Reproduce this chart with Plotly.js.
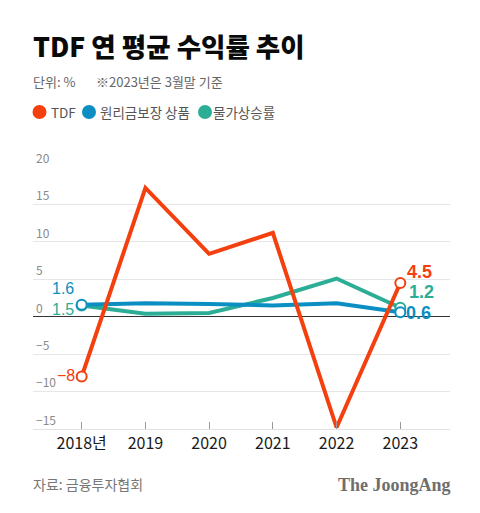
<!DOCTYPE html>
<html><head><meta charset="utf-8">
<script src="https://cdn.plot.ly/plotly-3.0.1.min.js"></script>
<style>html,body{margin:0;padding:0;background:#fff}#chart{width:480px;height:513px}</style>
</head><body><div id="chart"></div>
<script>
// ---- data ----
const years = ['2018','2019','2020','2021','2022','2023'];
const yearLabels = ['2018년','2019','2020','2021','2022','2023'];
const tdf = [-8, 17.2, 8.4, 11.2, -14.8, 4.5];
const guaranteed = [1.6, 1.8, 1.7, 1.5, 1.8, 0.6];
const inflation = [1.5, 0.4, 0.5, 2.5, 5.1, 1.2];
const seriesNames = ['TDF', '원리금보장 상품', '물가상승률'];
const yTicks = [-15, -10, -5, 0, 5, 10, 15, 20];
const titleText = 'TDF 연 평균 수익률 추이';
const unitText = '단위: %';
const noteText = '※2023년은 3월말 기준';
const sourceText = '자료: 금융투자협회';
const brandText = 'The JoongAng';

// ---- style ----
const colors = ['#f4400f', '#0b8fc3', '#2bae95'];
const FONT = 'Noto Sans CJK KR, Noto Sans, sans-serif';
const NUMFONT = 'Liberation Sans, Arial, sans-serif';
const W = 480, H = 513;
const M = {l: 33, r: 30, t: 167, b: 84};
const PW = W - M.l - M.r, PH = H - M.t - M.b;
const px = x => (x - M.l) / PW;
const py = y => (H - M.b - y) / PH;
const fmt = v => (v < 0 ? '\u2212' + Math.abs(v) : String(v));

const series = [tdf, guaranteed, inflation];
const last = years.length - 1;

function lineTrace(i) {
  return {x: years, y: series[i], type: 'scatter', mode: 'lines', name: seriesNames[i],
    line: {color: colors[i], width: 4, shape: 'linear'}, hoverinfo: 'skip', showlegend: false};
}
function endTrace(i) {
  return {x: [years[0], years[last]], y: [series[i][0], series[i][last]], type: 'scatter', mode: 'markers',
    marker: {size: 10, color: '#fff', line: {color: colors[i], width: 2}}, hoverinfo: 'skip', showlegend: false};
}
const data = [lineTrace(2), lineTrace(1), endTrace(2), endTrace(1), lineTrace(0), endTrace(0)];

// value labels (offsets only; values from arrays). x given as category index.
const ann = [];
function valLabel(i, idx, side, xs, ys, size, bold) {
  ann.push({x: idx, y: series[i][idx], xref: 'x', yref: 'y', text: fmt(series[i][idx]),
    showarrow: false, xanchor: side, yanchor: 'middle', xshift: xs, yshift: ys,
    borderpad: 0,
    font: {family: NUMFONT, size: size, color: colors[i], weight: bold ? 'bold' : 'normal'}});
}
valLabel(1, 0, 'right', -7, 16, 16, false);
valLabel(2, 0, 'right', -7, -4, 16, false);
valLabel(0, 0, 'right', -6, 1, 16, false);
valLabel(0, last, 'left', 6, 11, 18, true);
valLabel(2, last, 'left', 8, 16, 18, true);
valLabel(1, last, 'left', 5, -1, 18, true);

// header / footer text
function textAt(x, y, text, size, color, anchor, weight, family) {
  ann.push({x: px(x), y: py(y), xref: 'paper', yref: 'paper', text: text, showarrow: false,
    xanchor: anchor || 'left', yanchor: 'middle',
    font: {family: family || FONT, size: size, color: color, weight: weight || 'normal'}});
}
textAt(31, 45, titleText, 26.5, '#0a0a0a', 'left', 900);
textAt(31, 82, unitText, 13, '#666');
textAt(94, 82, noteText, 13, '#666');
textAt(31, 484, sourceText, 14, '#777');
textAt(453, 485, brandText, 18, '#6e6e6e', 'right', 'bold', 'Liberation Serif, DejaVu Serif, serif');

// legend (dots + labels)
const legDotX = [39.5, 89, 205];
const legTextX = [49, 98, 211];
const shapes = [];
const legY = 112, R = 7;
seriesNames.forEach((n, i) => {
  shapes.push({type: 'circle', xref: 'paper', yref: 'paper',
    x0: px(legDotX[i] - R), x1: px(legDotX[i] + R), y0: py(legY + R), y1: py(legY - R),
    fillcolor: colors[i], line: {width: 0}});
  textAt(legTextX[i], legY, n, 13.5, '#555');
});

const layout = {
  width: W, height: H, margin: M, paper_bgcolor: '#fff', plot_bgcolor: '#fff',
  showlegend: false, font: {family: FONT},
  xaxis: {type: 'category', range: [-0.764, 5.78], tickvals: years, ticktext: yearLabels,
    ticks: 'inside', ticklen: 7, tickcolor: '#9a9a9a', tickwidth: 1,
    tickfont: {family: FONT, size: 16, color: '#1a1a1a'},
    showgrid: false, zeroline: false, showline: true, linecolor: '#e2e2e2', linewidth: 1, fixedrange: true},
  yaxis: {range: [-15, 20], tickvals: yTicks, ticktext: yTicks.map(fmt),
    ticklabelposition: 'inside top', ticklabeloverflow: 'allow',
    tickfont: {family: FONT, size: 12, color: '#8a8a8a'},
    showgrid: true, gridcolor: '#e6e6e6', gridwidth: 1,
    zeroline: true, zerolinecolor: '#333', zerolinewidth: 1.2, showline: false, ticks: '', fixedrange: true},
  annotations: ann, shapes: shapes
};
Plotly.newPlot('chart', data, layout, {displayModeBar: false, staticPlot: true});
</script></body></html>
